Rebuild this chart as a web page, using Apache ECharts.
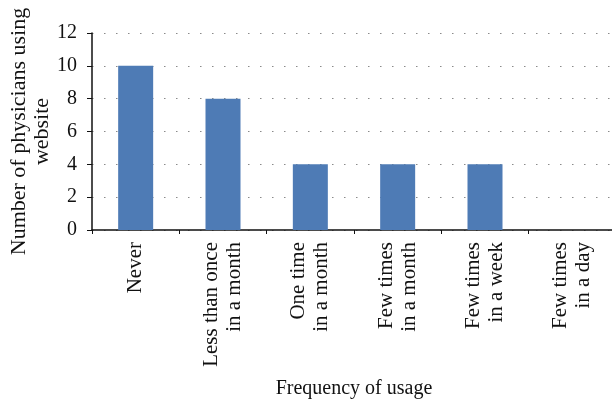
<!DOCTYPE html>
<html>
<head>
<meta charset="utf-8">
<script src="https://cdn.jsdelivr.net/npm/echarts@6/dist/echarts.min.js"></script>
<style>
  html, body { margin: 0; padding: 0; background: #fff; }
  #chart { width: 612px; height: 400px; }
</style>
</head>
<body>
<div id="chart"></div>
<script>
// Usage frequency categories (two-line labels)
const categories = [
  'Never',
  'Less than once\nin a month',
  'One time\nin a month',
  'Few times\nin a month',
  'Few times\nin a week',
  'Few times\nin a day'
];
// Number of physicians per category
const physicians = [10, 8, 4, 4, 4, 0];
const yTicks = { min: 0, max: 12, interval: 2 };

const FONT = '"Liberation Serif", "Times New Roman", serif';
const chart = echarts.init(document.getElementById('chart'), null, { renderer: 'canvas' });

chart.setOption({
  animation: false,
  grid: {
    left: 92, top: 33, width: 524, height: 197,
    containLabel: false,
    outerBoundsMode: 'none'
  },
  xAxis: {
    type: 'category',
    data: categories,
    name: 'Frequency of usage',
    nameLocation: 'middle',
    nameGap: 149,
    nameMoveOverlap: false,
    nameTextStyle: { fontFamily: FONT, fontSize: 20, color: '#111' },
    axisLine: { lineStyle: { color: '#111', width: 1.5 } },
    axisTick: { show: true, length: 4, alignWithLabel: false, lineStyle: { color: '#111', width: 1 } },
    axisLabel: {
      rotate: 90,
      margin: 12,
      interval: 0,
      fontFamily: FONT,
      fontSize: 21,
      lineHeight: 23,
      color: '#111'
    }
  },
  yAxis: {
    type: 'value',
    min: yTicks.min,
    max: yTicks.max,
    interval: yTicks.interval,
    name: 'Number of physicians using\nwebsite',
    nameLocation: 'middle',
    nameGap: 38,
    nameMoveOverlap: false,
    nameTextStyle: { fontFamily: FONT, fontSize: 22, lineHeight: 23, color: '#111' },
    axisLine: { show: true, lineStyle: { color: '#111', width: 1.5 } },
    axisTick: { show: true, length: 5, lineStyle: { color: '#111', width: 1 } },
    axisLabel: { margin: 15, fontFamily: FONT, fontSize: 20, color: '#111' },
    splitLine: { show: true, lineStyle: { color: '#8a8a8a', width: 1.2, type: [1.5, 10.5] } }
  },
  series: [{
    type: 'bar',
    data: physicians,
    barWidth: 35,
    itemStyle: { color: '#4E7BB5' }
  }]
});
</script>
</body>
</html>
